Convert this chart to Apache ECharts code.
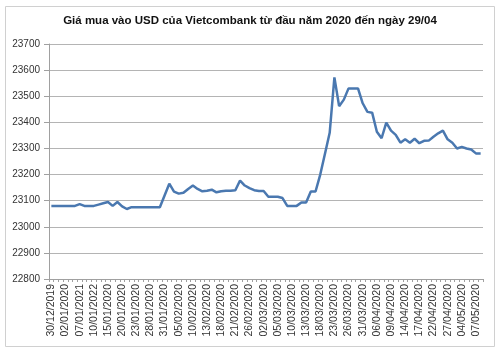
<!DOCTYPE html>
<html>
<head>
<meta charset="utf-8">
<script src="https://cdn.jsdelivr.net/npm/echarts@6/dist/echarts.min.js"></script>
<style>html,body{margin:0;padding:0;background:#fff;}#c{width:500px;height:353px;}</style>
</head>
<body>
<div id="c"></div>
<script>
const titleText = 'Giá mua vào USD của Vietcombank từ đầu năm 2020 đến ngày 29/04';
const categories = [
 '30/12/2019','31/12/2019','01/01/2020','02/01/2020','03/01/2020','06/01/2020','07/01/2021','08/01/2020','09/01/2020','10/01/2022',
 '13/01/2020','14/01/2020','15/01/2020','16/01/2020','17/01/2020','20/01/2020','21/01/2020','22/01/2020','23/01/2020','24/01/2020',
 '27/01/2020','28/01/2020','29/01/2020','30/01/2020','31/01/2020','03/02/2020','04/02/2020','05/02/2020','06/02/2020','07/02/2020',
 '10/02/2020','11/02/2020','12/02/2020','13/02/2020','14/02/2020','17/02/2020','18/02/2020','19/02/2020','20/02/2020','21/02/2020',
 '24/02/2020','25/02/2020','26/02/2020','27/02/2020','28/02/2020','02/03/2020','03/03/2020','04/03/2020','05/03/2020','06/03/2020',
 '09/03/2020','10/03/2020','11/03/2020','12/03/2020','13/03/2020','16/03/2020','17/03/2020','18/03/2020','19/03/2020','20/03/2020',
 '23/03/2020','24/03/2020','25/03/2020','26/03/2020','27/03/2020','30/03/2020','31/03/2020','01/04/2020','03/04/2020','06/04/2020',
 '07/04/2020','08/04/2020','09/04/2020','10/04/2020','13/04/2020','14/04/2020','15/04/2020','16/04/2020','17/04/2020','20/04/2020',
 '21/04/2020','22/04/2020','23/04/2020','24/04/2020','27/04/2020','28/04/2020','29/04/2020','04/05/2020','05/05/2020','06/05/2020',
 '07/05/2020','08/05/2020'
];
const buyPrice = [
 23080,23080,23080,23080,23080,23080,23087,23080,23080,23080,
 23085,23090,23095,23080,23095,23078,23068,23075,23075,23075,
 23075,23075,23075,23075,23120,23165,23135,23127,23130,23145,
 23158,23145,23136,23138,23142,23132,23136,23138,23138,23140,
 23177,23158,23148,23140,23137,23137,23115,23115,23115,23110,
 23080,23080,23080,23093,23093,23135,23135,23200,23280,23360,
 23572,23462,23487,23530,23530,23530,23473,23440,23437,23364,
 23339,23399,23368,23352,23322,23335,23322,23337,23320,23329,
 23330,23345,23358,23368,23335,23322,23300,23306,23300,23296,
 23281,23281
];
const yMin = 22800, yMax = 23700, yStep = 100;

const chart = echarts.init(document.getElementById('c'), null, {renderer:'canvas'});
chart.setOption({
  animation: false,
  backgroundColor: '#fff',
  graphic: [{type:'rect', shape:{x:5.5,y:6.5,width:489,height:340}, style:{fill:'none', stroke:'#d0d0d0', lineWidth:1}, silent:true}],
  title: {text: titleText, left: 'center', top: 10,
    textStyle:{fontFamily:'Liberation Sans, Arial, sans-serif', fontSize:11.5, fontWeight:'bold', color:'#111'}},
  grid: {left:49, right:17, top:44, bottom:74, containLabel:false},
  xAxis: {
    type:'category', data: categories, boundaryGap:true,
    axisLine:{show:true, lineStyle:{color:'#a0a0a0', width:1}},
    axisTick:{show:true, interval:0, length:3, lineStyle:{color:'#a0a0a0'}},
    axisLabel:{interval:2, rotate:90, fontSize:10.5, margin:5, color:'#333', fontFamily:'Liberation Sans, Arial, sans-serif'},
    splitLine:{show:false}
  },
  yAxis: {
    type:'value', min:yMin, max:yMax, interval:yStep,
    axisLine:{show:true, lineStyle:{color:'#a0a0a0', width:1}},
    axisTick:{show:true, length:5, inside:false, lineStyle:{color:'#a0a0a0'}},
    axisLabel:{fontSize:10, margin:9, color:'#333', fontFamily:'Liberation Sans, Arial, sans-serif',
      formatter: v => String(v)},
    splitLine:{show:true, lineStyle:{color:'#b4b4b4', width:1}}
  },
  series: [{type:'line', data: buyPrice, symbol:'none', smooth:false,
    lineStyle:{color:'#4a78b0', width:2.5}}]
});
</script>
</body>
</html>
